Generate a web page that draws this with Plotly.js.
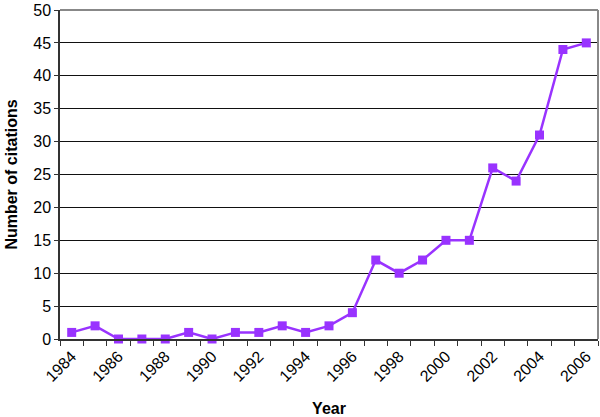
<!DOCTYPE html>
<html>
<head>
<meta charset="utf-8">
<script src="https://cdn.plot.ly/plotly-3.0.1.min.js"></script>
<style>
  html, body { margin: 0; padding: 0; background: #fff; }
  #plot { width: 600px; height: 417px; }
</style>
</head>
<body>
<div id="plot"></div>
<script>
var years = [1984, 1985, 1986, 1987, 1988, 1989, 1990, 1991, 1992, 1993, 1994, 1995,
             1996, 1997, 1998, 1999, 2000, 2001, 2002, 2003, 2004, 2005, 2006];
var citations = [1, 2, 0, 0, 0, 1, 0, 1, 1, 2, 1, 2,
                 4, 12, 10, 12, 15, 15, 26, 24, 31, 44, 45];
var yearLabels = [1984, 1986, 1988, 1990, 1992, 1994, 1996, 1998, 2000, 2002, 2004, 2006];

var trace1 = {
  x: years,
  y: citations,
  mode: 'lines+markers',
  type: 'scatter',
  line: {color: '#9933ff', width: 2.5},
  marker: {symbol: 'square', size: 9, color: '#9933ff'},
  cliponaxis: false,
  hoverinfo: 'x+y'
};

var data = [trace1];

var layout = {
  width: 600,
  height: 417,
  margin: {l: 60, r: 2, t: 10, b: 78},
  paper_bgcolor: '#ffffff',
  plot_bgcolor: '#ffffff',
  font: {family: '"Liberation Sans", Arial, sans-serif', size: 15, color: '#000'},
  showlegend: false,
  xaxis: {
    range: [1983.5, 2006.5],
    tickmode: 'array',
    tickvals: yearLabels,
    ticktext: yearLabels.map(String),
    tickangle: -45,
    ticks: '',
    showgrid: false,
    zeroline: false,
    showline: true,
    linecolor: '#333',
    linewidth: 1.5,
    tickfont: {size: 16},
    minor: {tick0: 1983.5, dtick: 1, ticks: 'outside', ticklen: 5, tickcolor: '#333', showgrid: false},
    title: {text: 'Year', font: {size: 16, weight: 'bold'}, standoff: 20}
  },
  yaxis: {
    range: [0, 50],
    dtick: 5,
    ticks: 'outside',
    ticklen: 4,
    tickcolor: '#333',
    showgrid: true,
    gridcolor: '#111',
    gridwidth: 1,
    zeroline: false,
    showline: true,
    linecolor: '#333',
    linewidth: 1.5,
    tickfont: {size: 16},
    title: {text: 'Number of citations', font: {size: 16, weight: 'bold'}, standoff: 12}
  },
  shapes: [
    {type: 'line', xref: 'paper', yref: 'paper', x0: 0, x1: 1, y0: 1, y1: 1,
     line: {color: '#888', width: 2}},
    {type: 'line', xref: 'paper', yref: 'paper', x0: 1, x1: 1, y0: 0, y1: 1,
     line: {color: '#888', width: 2}}
  ],
  hovermode: 'closest'
};

Plotly.newPlot('plot', data, layout, {displayModeBar: false});
</script>
</body>
</html>
